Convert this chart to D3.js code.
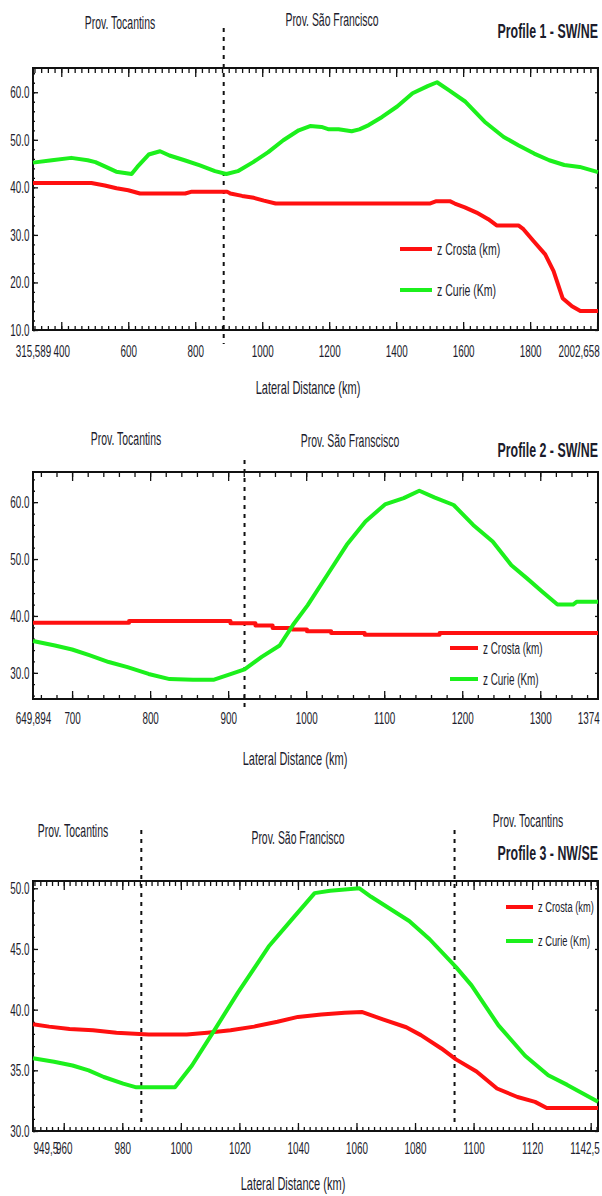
<!DOCTYPE html>
<html>
<head>
<meta charset="utf-8">
<script src="https://cdn.jsdelivr.net/npm/d3@7"></script>
<style>
  body { margin: 0; background: #fff; }
  svg text { font-family: "Liberation Sans", Arial, sans-serif; fill: #1c1c2c; }
</style>
</head>
<body>
<div id="wrapper"></div>
<script>
// ---- Profile 1 data ----
const p1CrostaKm = [315.589, 490, 530, 565, 600, 635, 770, 790, 895, 905, 940, 975, 1005, 1040, 1500, 1520, 1560, 1575, 1605, 1640, 1675, 1700, 1765, 1780, 1810, 1845, 1870, 1897, 1925, 1950, 2002.658]
const p1CrostaZ = [40.9, 40.9, 40.4, 39.8, 39.4, 38.7, 38.7, 39.1, 39.1, 38.7, 38.2, 37.8, 37.2, 36.6, 36.6, 37.1, 37.1, 36.6, 35.8, 34.7, 33.3, 32.0, 32.0, 31.2, 28.7, 25.9, 22.4, 16.7, 15.0, 14.0, 14.0]
const p1CurieKm = [315.589, 372, 430, 479, 502, 530, 564, 610, 627, 661, 695, 723, 768, 814, 859, 893, 927, 973, 1018, 1063, 1109, 1143, 1177, 1199, 1228, 1267, 1290, 1318, 1358, 1403, 1449, 1494, 1522, 1556, 1607, 1664, 1721, 1766, 1812, 1857, 1902, 1948, 2002.658]
const p1CurieZ = [45.2, 45.7, 46.2, 45.7, 45.3, 44.4, 43.3, 42.8, 44.3, 46.9, 47.6, 46.7, 45.7, 44.6, 43.4, 42.8, 43.4, 45.3, 47.4, 49.9, 52.0, 52.9, 52.7, 52.2, 52.2, 51.8, 52.2, 53.1, 54.8, 57.0, 59.8, 61.3, 62.1, 60.5, 58.0, 53.8, 50.6, 48.8, 47.1, 45.7, 44.7, 44.3, 43.2]
const p1XTicks = [315.589, 400, 600, 800, 1000, 1200, 1400, 1600, 1800, 2002.658]
const p1XLabels = ["315,589", "400", "600", "800", "1000", "1200", "1400", "1600", "1800", "2002,658"]
const p1YTicks = [10, 20, 30, 40, 50, 60]
const p1Bounds = [885]

// ---- Profile 2 data ----
const p2CrostaKm = [649.894, 773, 903, 935, 957, 982, 1001, 1032, 1075, 1171, 1374]
const p2CrostaZ = [38.8, 39.1, 38.7, 38.3, 37.9, 37.6, 37.3, 37.0, 36.7, 37.0, 37.0]
const p2CurieKm = [649.894, 678, 700, 722, 747, 771, 798, 825, 855, 882, 904, 921, 943, 966, 983, 1002, 1027, 1052, 1076, 1101, 1125, 1145, 1165, 1189, 1214, 1239, 1263, 1283, 1303, 1322, 1342, 1347, 1374]
const p2CurieZ = [35.6, 34.8, 34.1, 33.1, 31.9, 31.0, 29.8, 28.9, 28.8, 28.8, 29.8, 30.6, 32.8, 34.8, 38.4, 41.9, 47.2, 52.5, 56.6, 59.6, 60.7, 62.0, 60.8, 59.5, 56.0, 53.1, 48.9, 46.6, 44.2, 42.0, 42.0, 42.5, 42.5]
const p2XTicks = [649.894, 700, 800, 900, 1000, 1100, 1200, 1300, 1374]
const p2XLabels = ["649,894", "700", "800", "900", "1000", "1100", "1200", "1300", "1374"]
const p2YTicks = [30, 40, 50, 60]
const p2Bounds = [921]

// ---- Profile 3 data ----
const p3CrostaKm = [949.5, 955, 962, 970, 978, 989, 1002, 1009, 1017, 1025, 1033, 1040, 1048, 1056, 1062, 1069, 1077, 1082, 1089, 1094, 1101, 1108, 1115, 1121, 1125, 1142.5]
const p3CrostaZ = [38.8, 38.6, 38.4, 38.3, 38.1, 37.95, 37.95, 38.1, 38.3, 38.6, 39.0, 39.4, 39.6, 39.75, 39.8, 39.2, 38.55, 37.9, 36.8, 35.9, 34.9, 33.5, 32.8, 32.4, 31.9, 31.9]
const p3CurieKm = [949.5, 956.7, 963, 968.5, 973.7, 980.3, 984.8, 998, 1003.8, 1011.7, 1019.5, 1030, 1037.8, 1045.7, 1051, 1061, 1065, 1078, 1085, 1094, 1099.3, 1108.5, 1117.6, 1125.5, 1132, 1142.5]
const p3CurieZ = [36.0, 35.7, 35.4, 35.0, 34.45, 33.9, 33.6, 33.6, 35.4, 38.4, 41.4, 45.2, 47.4, 49.6, 49.8, 50.0, 49.3, 47.3, 45.8, 43.5, 42.0, 38.7, 36.2, 34.6, 33.8, 32.4]
const p3XTicks = [949.5, 960, 980, 1000, 1020, 1040, 1060, 1080, 1100, 1120, 1142.5]
const p3XLabels = ["949,5", "960", "980", "1000", "1020", "1040", "1060", "1080", "1100", "1120", "1142,5"]
const p3YTicks = [30, 35, 40, 45, 50]
const p3Bounds = [986.5, 1093.5]

const width = 602
const height = 1196
const red = "#ff1010"
const green = "#1cf01c"
const squeeze = 0.58   // the original lettering is tall and narrow

const svg = d3.select("#wrapper")
    .append("svg")
    .attr("width", width)
    .attr("height", height)

// text drawn narrow: scaled horizontally about its anchor point
function addText(parent, x, y, str, size, opts = {}) {
    const t = parent.append("g")
        .attr("transform", `translate(${x},${y})`)
        .append("text")
        .attr("transform", `scale(${opts.sx || squeeze},1)`)
        .attr("text-anchor", opts.anchor || "middle")
        .attr("font-size", size)
        .text(str)
    if (opts.bold) t.attr("font-weight", "bold")
    if (opts.dy) t.attr("dy", opts.dy)
    return t
}

function drawProfile(cfg) {
    const x = d3.scaleLinear()
        .domain(cfg.xDomain)
        .range([cfg.left, cfg.right])
    const y = d3.scaleLinear()
        .domain(cfg.yDomain)
        .range([cfg.bottom, cfg.top])
    const g = svg.append("g")

    // minor + major ticks, all pointing inward
    const minorX = d3.range(cfg.xMinorStart, cfg.xDomain[1], cfg.xMinor)
    const majorX = d3.range(cfg.xMajorStart, cfg.xDomain[1], cfg.xMajor)
    const minorY = d3.range(Math.ceil(cfg.yDomain[0] / cfg.yMinor) * cfg.yMinor, cfg.yDomain[1], cfg.yMinor)
    const tickAxes = [
        [d3.axisBottom(x).tickValues(minorX).tickSize(-4), `translate(0,${cfg.bottom})`],
        [d3.axisBottom(x).tickValues(majorX).tickSize(-8), `translate(0,${cfg.bottom})`],
        [d3.axisTop(x).tickValues(minorX).tickSize(-5), `translate(0,${cfg.top})`],
        [d3.axisTop(x).tickValues(majorX).tickSize(-9), `translate(0,${cfg.top})`],
        [d3.axisLeft(y).tickValues(minorY).tickSize(-2), `translate(${cfg.left},0)`],
        [d3.axisLeft(y).tickValues(cfg.yTicks).tickSize(-5), `translate(${cfg.left},0)`],
        [d3.axisRight(y).tickValues(cfg.yTicks).tickSize(-3), `translate(${cfg.right},0)`],
    ]
    tickAxes.forEach(([ax, tr]) => {
        const a = g.append("g").attr("transform", tr)
            .call(ax.tickFormat(""))
        a.select(".domain").remove()
        a.selectAll("line").attr("stroke", "#111").attr("stroke-width", 1.3)
    })

    // frame
    g.append("rect")
        .attr("x", cfg.left)
        .attr("y", cfg.top)
        .attr("width", cfg.right - cfg.left)
        .attr("height", cfg.bottom - cfg.top)
        .attr("fill", "none")
        .attr("stroke", "#111")
        .attr("stroke-width", 2)

    // y tick labels
    const yAx = g.append("g")
        .attr("transform", `translate(${cfg.left},0)`)
        .call(d3.axisLeft(y).tickValues(cfg.yTicks).tickSize(0).tickPadding(6).tickFormat(d3.format(".1f")))
    yAx.select(".domain").remove()
    yAx.selectAll("text")
        .attr("font-size", cfg.fontTick)
        .attr("fill", "#1c1c2c")
        .attr("transform", `scale(${squeeze},1)`)
        .style("font-family", null)

    // x tick labels
    const xAx = g.append("g")
        .attr("transform", `translate(0,${cfg.bottom})`)
        .call(d3.axisBottom(x).tickValues(cfg.xTicks).tickSize(0).tickPadding(cfg.xPad)
            .tickFormat((d, i) => cfg.xLabels[i]))
    xAx.select(".domain").remove()
    xAx.selectAll("text")
        .attr("font-size", cfg.fontTick)
        .attr("fill", "#1c1c2c")
        .attr("transform", `scale(${squeeze},1)`)
    xAx.selectAll(".tick").filter((d, i) => i === cfg.xTicks.length - 1)
        .select("text").attr("text-anchor", "end").attr("dx", 2)
    if (cfg.firstStart) {
        xAx.selectAll(".tick").filter((d, i) => i === 0)
            .select("text").attr("text-anchor", "start")
    }

    // province boundaries
    cfg.bounds.forEach(b => {
        g.append("line")
            .attr("x1", x(b)).attr("x2", x(b))
            .attr("y1", cfg.dashTop).attr("y2", cfg.dashBottom)
            .attr("stroke", "#111")
            .attr("stroke-width", 2)
            .attr("stroke-dasharray", "4 5")
    })

    // profiles
    const series = [
        { km: cfg.crostaKm, z: cfg.crostaZ, color: red, curve: cfg.crostaCurve || d3.curveLinear },
        { km: cfg.curieKm, z: cfg.curieZ, color: green, curve: d3.curveLinear },
    ]
    series.forEach(s => {
        const line = d3.line()
            .x((d, i) => x(s.km[i]))
            .y(d => y(d))
            .curve(s.curve)
        g.append("path")
            .datum(s.z)
            .attr("d", line)
            .attr("fill", "none")
            .attr("stroke", s.color)
            .attr("stroke-width", 4)
            .attr("stroke-linejoin", "round")
    })

    // legend
    const legendItems = [["z Crosta (km)", red], ["z Curie (Km)", green]]
    legendItems.forEach(([label, color], i) => {
        const ly = cfg.legend.y + i * cfg.legend.gap
        g.append("line")
            .attr("x1", cfg.legend.x).attr("x2", cfg.legend.x + cfg.legend.len)
            .attr("y1", ly).attr("y2", ly)
            .attr("stroke", color)
            .attr("stroke-width", 4)
        addText(g, cfg.legend.x + cfg.legend.len + 5, ly, label, cfg.legend.font,
            { anchor: "start", dy: "0.35em", sx: cfg.legend.sx })
    })

    // headings
    cfg.headings.forEach(h => {
        addText(g, h.x, h.y, h.text, h.size || 18,
            { anchor: h.anchor, bold: h.bold, sx: h.bold ? 0.62 : squeeze })
    })

    addText(g, cfg.titleX, cfg.titleY, "Lateral Distance (km)", 19)
}

drawProfile({
    left: 33, right: 598, top: 68, bottom: 330,
    xDomain: [315.589, 2002.658], yDomain: [10, 65.1],
    xMinorStart: 320, xMinor: 20, xMajorStart: 400, xMajor: 200, yMinor: 2,
    xTicks: p1XTicks, xLabels: p1XLabels, yTicks: p1YTicks, xPad: 15, fontTick: 17,
    bounds: p1Bounds, dashTop: 28, dashBottom: 344,
    crostaKm: p1CrostaKm, crostaZ: p1CrostaZ, curieKm: p1CurieKm, curieZ: p1CurieZ,
    legend: { x: 400, y: 249, gap: 41, len: 32, font: 17, sx: 0.62 },
    headings: [
        { text: "Prov. Tocantins", x: 120, y: 29 },
        { text: "Prov. São Francisco", x: 332, y: 26 },
        { text: "Profile 1 - SW/NE", x: 598, y: 38, anchor: "end", bold: true, size: 20 },
    ],
    titleX: 308, titleY: 394,
})

drawProfile({
    left: 33, right: 598, top: 472, bottom: 699,
    xDomain: [649.894, 1374], yDomain: [25.4, 65.3],
    xMinorStart: 660, xMinor: 20, xMajorStart: 700, xMajor: 100, yMinor: 2,
    xTicks: p2XTicks, xLabels: p2XLabels, yTicks: p2YTicks, xPad: 13, fontTick: 17,
    bounds: p2Bounds, dashTop: 460, dashBottom: 712,
    crostaKm: p2CrostaKm, crostaZ: p2CrostaZ, curieKm: p2CurieKm, curieZ: p2CurieZ,
    crostaCurve: d3.curveStepAfter,
    legend: { x: 450, y: 648, gap: 31, len: 28, font: 16, sx: 0.62 },
    headings: [
        { text: "Prov. Tocantins", x: 126, y: 445 },
        { text: "Prov. São Franscisco", x: 350, y: 447 },
        { text: "Profile 2 - SW/NE", x: 598, y: 457, anchor: "end", bold: true, size: 20 },
    ],
    titleX: 295, titleY: 765,
})

drawProfile({
    left: 33, right: 598, top: 881, bottom: 1131,
    xDomain: [949.5, 1142.5], yDomain: [30, 50.6],
    xMinorStart: 950, xMinor: 2, xMajorStart: 960, xMajor: 20, yMinor: 1,
    xTicks: p3XTicks, xLabels: p3XLabels, yTicks: p3YTicks, xPad: 11, fontTick: 17, firstStart: true,
    bounds: p3Bounds, dashTop: 830, dashBottom: 1126,
    crostaKm: p3CrostaKm, crostaZ: p3CrostaZ, curieKm: p3CurieKm, curieZ: p3CurieZ,
    legend: { x: 506, y: 907, gap: 34, len: 27, font: 15, sx: 0.62 },
    headings: [
        { text: "Prov. Tocantins", x: 73, y: 837 },
        { text: "Prov. São Francisco", x: 298, y: 844 },
        { text: "Prov. Tocantins", x: 528, y: 827 },
        { text: "Profile 3 - NW/SE", x: 598, y: 860, anchor: "end", bold: true, size: 20 },
    ],
    titleX: 293, titleY: 1190,
})
</script>
</body>
</html>
